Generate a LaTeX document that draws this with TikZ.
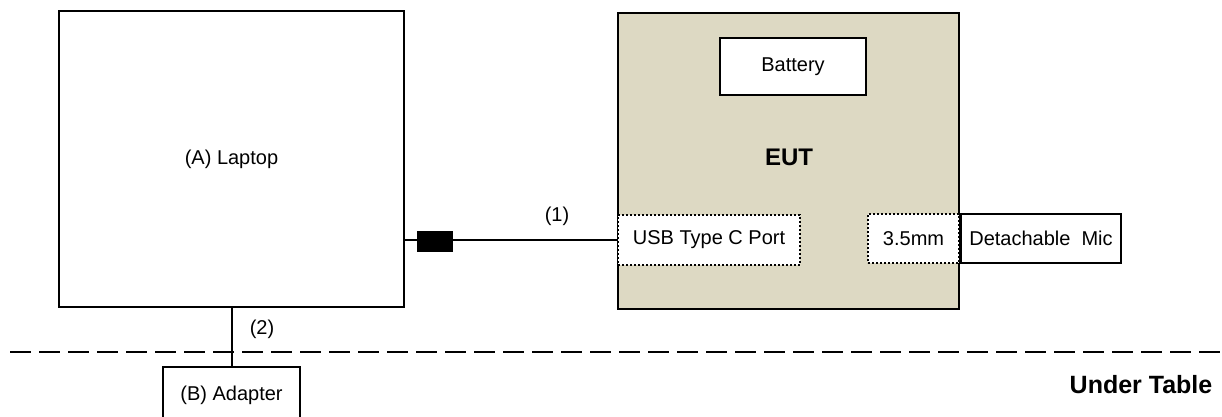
\documentclass[tikz,border=0pt]{standalone}
\usepackage{fontspec}
\setmainfont{Liberation Sans}
\usepackage{xcolor}
\usetikzlibrary{positioning, calc}
\definecolor{eutbg}{RGB}{221,217,195}

\begin{document}
\begin{tikzpicture}[
    x=1pt, y=-1pt,
    unit/.style={rectangle, draw=black, line width=2pt, fill=white, font=\fontsize{20}{24}\selectfont, inner sep=0pt},
    port/.style={rectangle, draw=black, line width=2pt, dash pattern=on 2pt off 2pt, fill=white, font=\fontsize{20}{24}\selectfont, inner sep=0pt},
    plug/.style={rectangle, draw=black, fill=black, minimum width=35pt, minimum height=20pt, inner sep=0pt},
    cable/.style={line width=2pt, black},
    lbl/.style={font=\fontsize{20}{24}\selectfont, inner sep=1pt},
    biglbl/.style={font=\fontsize{25}{30}\selectfont\bfseries, inner sep=1pt},
  ]
    \useasboundingbox (0,0) rectangle (1222,416);
    % table edge
    \coordinate (tableL) at (10,352);
    \coordinate (tableR) at (1222,352);
    \draw[line width=2pt, dash pattern=on 21pt off 8pt] (tableL) -- (tableR);

    \node[unit, minimum width=345pt, minimum height=296pt] (laptop) at (231.5,159) {(A) Laptop};
    \node[unit, fill=eutbg, minimum width=341pt, minimum height=296pt] (eut) at (788.5,161) {};
    \node[biglbl, font=\fontsize{24}{28}\selectfont\bfseries] (eutlbl) at (789,157) {EUT};
    \node[unit, minimum width=146pt, minimum height=57pt] (battery) at (793,66.5) {Battery};
    \node[port, minimum width=182pt, minimum height=50pt] (usb) at (709,240) {USB Type C Port};
    \node[port, minimum width=91pt, minimum height=49pt] (jack) at (913.5,238.5) {3.5mm};
    \node[unit, minimum width=160pt, minimum height=49pt, anchor=west] (mic) at (jack.east) {Detachable\ \ Mic};
    \node[unit, minimum width=137pt, minimum height=56pt] (adapter) at (231.5,395) {(B) Adapter};

    \draw[cable] (usb.west) -- (laptop.east |- usb.west);
    \node[plug] (usbplug) at (434.5,241) {};
    \node[lbl] (c1) at (557,216) {(1)};

    \draw[cable] (laptop.south) -- (adapter.north);
    \node[lbl] (c2) at (262,329) {(2)};

    \node[biglbl] (under) at (1141,385) {Under Table};
  \end{tikzpicture}
\end{document}
